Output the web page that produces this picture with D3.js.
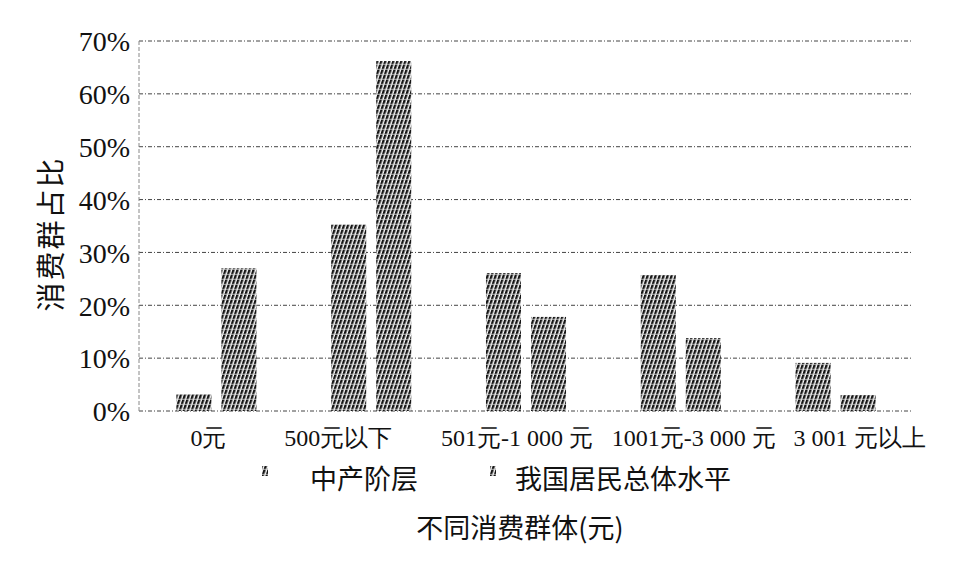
<!DOCTYPE html>
<html><head><meta charset="utf-8">
<script src="https://cdn.jsdelivr.net/npm/d3@7"></script>
<style>body{margin:0;background:#fff}svg{display:block}</style>
</head><body>
<svg id="c" width="955" height="567"></svg>
<script>
const categories = ["0元", "500元以下", "501元-1 000 元", "1001元-3 000 元", "3 001 元以上"];
const seriesNames = ["中产阶层", "我国居民总体水平"];
const middleClass = [3.2, 35.3, 26.1, 25.7, 9.1];
const nationalAll = [27.0, 66.2, 17.8, 13.8, 3.0];
const yTicks = [0, 10, 20, 30, 40, 50, 60, 70];
const yTitle = "消费群占比";
const xTitle = "不同消费群体(元)";

const svg = d3.select("#c");
const serif = "'Liberation Serif','Times New Roman',serif";
const cjk = "'Noto Sans CJK SC','Noto Sans',sans-serif";
const m = {l: 139, r: 913, t: 41, b: 411};

const defs = svg.append("defs");
const pat = defs.append("pattern").attr("id", "hatch").attr("patternUnits", "userSpaceOnUse")
  .attr("width", 4).attr("height", 5).attr("patternTransform", "skewX(-18)");
pat.append("rect").attr("width", 4).attr("height", 5).attr("fill", "#fff");
pat.append("rect").attr("x", 0).attr("width", 2.5).attr("height", 5).attr("fill", "#151515");
pat.append("rect").attr("x", 0).attr("y", 4).attr("width", 4).attr("height", 0.7).attr("fill", "#e0e0e0");

const x0 = d3.scaleBand().domain(categories).range([m.l, m.r]).paddingInner(0).paddingOuter(0);
const x1 = d3.scaleBand().domain(seriesNames).range([0, x0.bandwidth()]).paddingInner(0.222).paddingOuter(0.83);
const y = d3.scaleLinear().domain([0, 70]).range([m.b, m.t]);

// grid
svg.append("g").selectAll("line").data(yTicks).join("line")
  .attr("x1", m.l).attr("x2", m.r).attr("y1", d => y(d)).attr("y2", d => y(d))
  .attr("stroke", "#444").attr("stroke-width", 1).attr("stroke-dasharray", "4,2,1,2");
svg.append("line").attr("x1", m.l).attr("x2", m.l).attr("y1", m.t).attr("y2", m.b)
  .attr("stroke", "#888").attr("stroke-dasharray", "4,2");

// y axis labels
const yAxis = d3.axisLeft(y).tickValues(yTicks).tickFormat(d => d + "%").tickSize(0).tickPadding(9);
const ga = svg.append("g").attr("transform", `translate(${m.l},0)`).call(yAxis);
ga.select(".domain").remove();
ga.selectAll("text").attr("font-family", serif).attr("font-size", 28).attr("fill", "#111").attr("dy", "0.35em");

// bars
const data = categories.map((c, i) => ({c, vals: [middleClass[i], nationalAll[i]]}));
const g = svg.append("g");
data.forEach(d => {
  d.vals.forEach((v, j) => {
    g.append("rect")
      .attr("x", x0(d.c) + x1(seriesNames[j]))
      .attr("width", x1.bandwidth())
      .attr("y", y(v)).attr("height", y(0) - y(v))
      .attr("fill", "url(#hatch)");
  });
});

// x category labels
const labelShift = [-8, -33, -9, 13, 24];
svg.append("g").selectAll("text").data(categories).join("text")
  .attr("x", (d, i) => x0(d) + x0.bandwidth() / 2 + labelShift[i])
  .attr("y", 446).attr("text-anchor", "middle")
  .attr("font-family", serif).attr("font-size", 24).attr("fill", "#111").text(d => d);

// legend
const legendX = [262, 490];
const legendTextX = [310, 515];
seriesNames.forEach((s, i) => {
  svg.append("rect").attr("x", legendX[i]).attr("y", 466).attr("width", 6).attr("height", 10).attr("fill", "url(#hatch)");
  svg.append("text").attr("x", legendTextX[i]).attr("y", 489).attr("font-family", cjk)
    .attr("font-size", 27).attr("fill", "#111").text(s);
});

// titles
svg.append("text").attr("x", 520).attr("y", 538).attr("text-anchor", "middle")
  .attr("font-family", cjk).attr("font-size", 27).attr("fill", "#111").text(xTitle);
svg.append("text").attr("transform", "translate(62,234) rotate(-90)").attr("text-anchor", "middle")
  .attr("font-family", cjk).attr("font-size", 29).attr("letter-spacing", 2).attr("fill", "#111").text(yTitle);
</script>
</body></html>
